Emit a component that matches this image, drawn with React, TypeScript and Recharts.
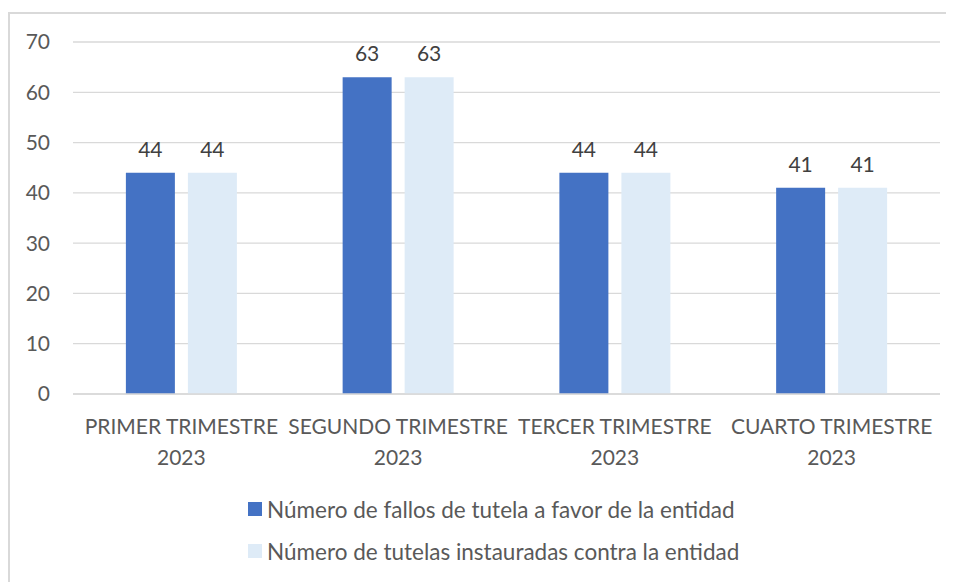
import React from 'react';
import { BarChart, Bar, XAxis, YAxis, CartesianGrid, Legend, LabelList } from 'recharts';

const categories = ['PRIMER TRIMESTRE|2023', 'SEGUNDO TRIMESTRE|2023', 'TERCER TRIMESTRE|2023', 'CUARTO TRIMESTRE|2023'];
const fallosFavor = [44, 63, 44, 41];
const tutelasInstauradas = [44, 63, 44, 41];
const yTicks = [0, 10, 20, 30, 40, 50, 60, 70];
const seriesNames = ['Número de fallos de tutela a favor de la entidad', 'Número de tutelas instauradas contra la entidad'];
const seriesColors = ['#4472C4', '#DEEBF7'];

const data = categories.map((c, i) => ({ name: c, a: fallosFavor[i], b: tutelasInstauradas[i] }));

const FONT = 'Lato, "Open Sans", sans-serif';

const XTick = (props: any) => {
  const { x, y, payload } = props;
  const lines = String(payload.value).split('|');
  return (
    <g>
      {lines.map((l, i) => (
        <text key={i} x={x} y={y + 40 + i * 31} textAnchor="middle" fill="#595959" fontSize={21} fontFamily={FONT}>
          {l}
        </text>
      ))}
    </g>
  );
};

const LegendContent = () => (
  <div style={{ paddingLeft: 240, fontFamily: FONT, fontSize: 22.5, color: '#595959' }}>
    {seriesNames.map((n, i) => (
      <div key={i} style={{ height: 42, display: 'flex', alignItems: 'center' }}>
        <span style={{ display: 'inline-block', width: 14, height: 14, background: seriesColors[i], marginRight: 5 }} />
        <span>{n}</span>
      </div>
    ))}
  </div>
);

export default function App() {
  return (
    <div style={{ position: 'relative', width: 946, height: 574, overflow: 'hidden', background: '#fff' }}>
      <div
        style={{
          position: 'absolute',
          left: 0,
          top: 4,
          width: 1000,
          height: 1000,
          border: '2px solid #d9d9d9',
          boxSizing: 'border-box',
        }}
      />
      <div style={{ position: 'absolute', left: 0, top: 0 }}>
        <BarChart
          width={946}
          height={574}
          data={data}
          margin={{ top: 34, right: 14, left: 0, bottom: 10 }}
          barCategoryGap="24.4%"
          barGap={13}
        >
          <CartesianGrid vertical={false} stroke="#d9d9d9" strokeWidth={1.3} />
          <XAxis
            dataKey="name"
            height={94}
            tickSize={0}
            tickMargin={0}
            tick={<XTick />}
            axisLine={{ stroke: '#d9d9d9', strokeWidth: 1.3 }}
            interval={0}
          />
          <YAxis
            width={65}
            domain={[0, 70]}
            ticks={yTicks}
            tickSize={0}
            tickMargin={23}
            axisLine={false}
            tick={{ fill: '#595959', fontSize: 21, fontFamily: FONT }}
          />
          <Legend verticalAlign="bottom" wrapperStyle={{ left: 0, width: 946 }} content={<LegendContent />} height={84} />
          <Bar dataKey="a" name={seriesNames[0]} fill={seriesColors[0]} isAnimationActive={false}>
            <LabelList dataKey="a" position="top" offset={16} fill="#404040" fontSize={21} fontFamily={FONT} />
          </Bar>
          <Bar dataKey="b" name={seriesNames[1]} fill={seriesColors[1]} isAnimationActive={false}>
            <LabelList dataKey="b" position="top" offset={16} fill="#404040" fontSize={21} fontFamily={FONT} />
          </Bar>
        </BarChart>
      </div>
    </div>
  );
}
